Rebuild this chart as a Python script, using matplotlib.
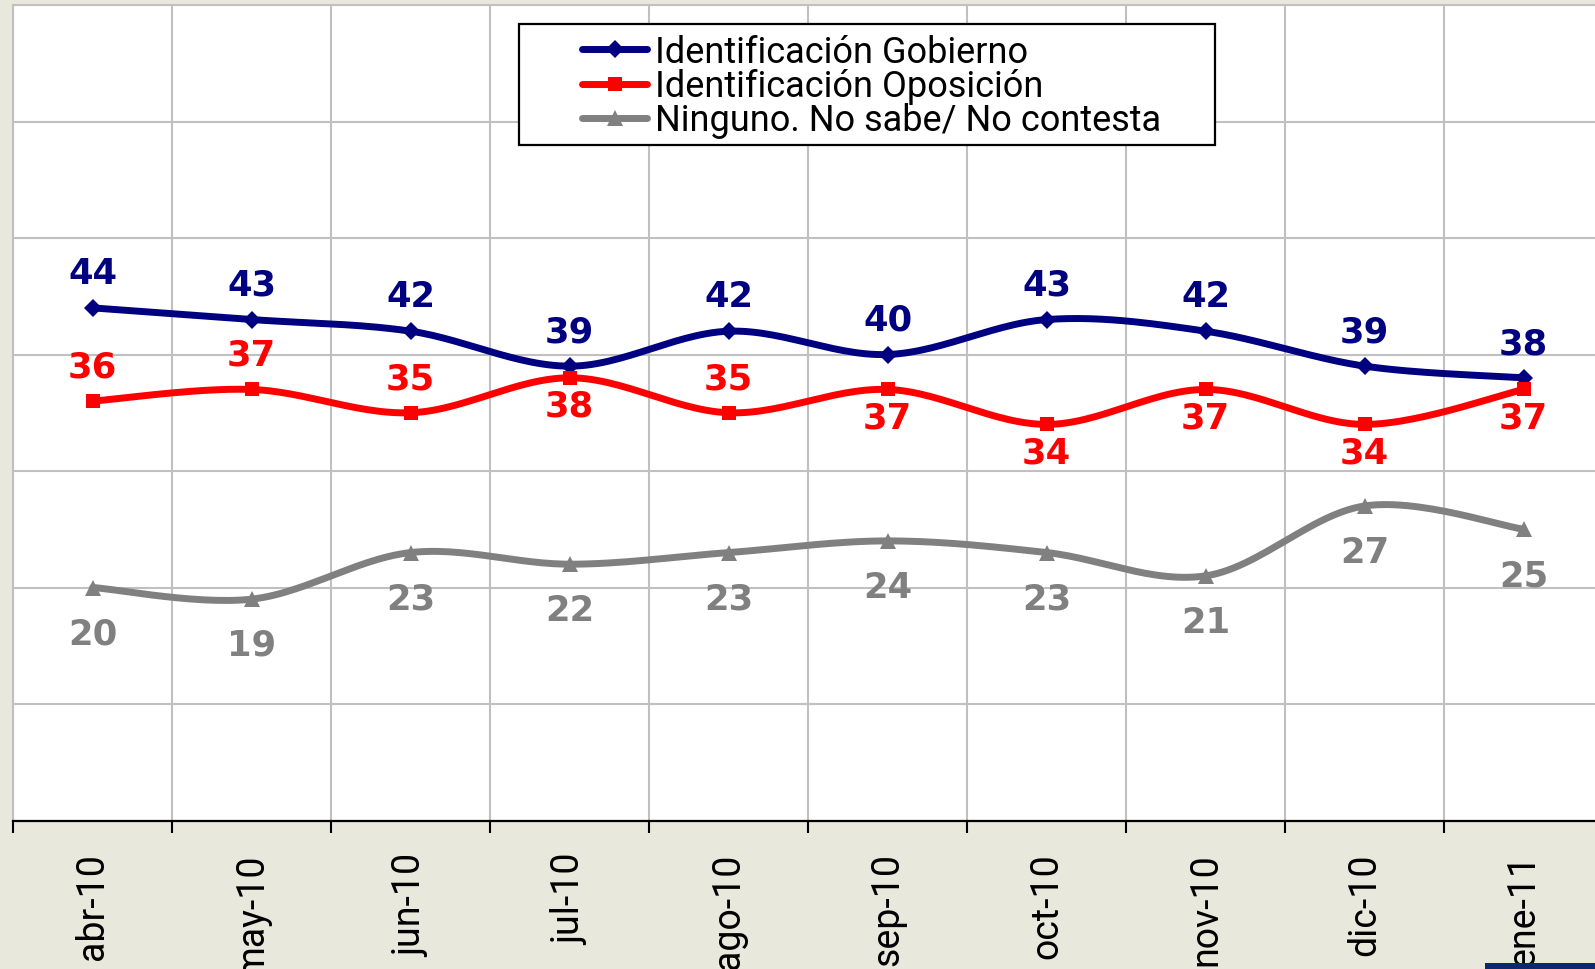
import numpy as np
import matplotlib
matplotlib.use("Agg")
import matplotlib.pyplot as plt
from matplotlib.patches import Rectangle
from matplotlib.lines import Line2D

# Monthly party identification (%)
months = ["abr-10", "may-10", "jun-10", "jul-10", "ago-10",
          "sep-10", "oct-10", "nov-10", "dic-10", "ene-11"]
gobierno = [44, 43, 42, 39, 42, 40, 43, 42, 39, 38]
oposicion = [36, 37, 35, 38, 35, 37, 34, 37, 34, 37]
ninguno = [20, 19, 23, 22, 23, 24, 23, 21, 27, 25]
series_names = ["Identificación Gobierno",
                "Identificación Oposición",
                "Ninguno. No sabe/ No contesta"]
# which opposition labels sit above their point
oposicion_label_above = [True, True, True, False, True,
                         False, False, False, False, False]

W, H = 1595, 970
BG = "#e9e8dd"
NAVY = "#000080"
RED = "#ff0000"
GREY = "#808080"
GRID = "#c0c0c0"
LABEL_FONT = "Roboto"
VALUE_FONT = "DejaVu Sans"
LW = 5.0


def smooth(x, y, n=30):
    """Cubic Bezier smoothing through every point (spreadsheet-style)."""
    P = np.column_stack([np.asarray(x, float), np.asarray(y, float)])
    ext = np.vstack([P[0], P, P[-1]])
    t = np.linspace(0, 1, n)[:, None]
    parts = []
    for i in range(len(P) - 1):
        p0, p1, p2, p3 = ext[i], ext[i + 1], ext[i + 2], ext[i + 3]
        c1 = p1 + (p2 - p0) / 6.0
        c2 = p2 - (p3 - p1) / 6.0
        seg = ((1 - t) ** 3) * p1 + 3 * ((1 - t) ** 2) * t * c1 \
            + 3 * (1 - t) * t ** 2 * c2 + t ** 3 * p2
        parts.append(seg if i == 0 else seg[1:])
    S = np.vstack(parts)
    return S[:, 0], S[:, 1]


fig = plt.figure(figsize=(W / 100, H / 100), dpi=100, facecolor=BG)

left_px, top_px, bottom_px = 13.2, 6.0, 821.5
cat_w = 159.0
ax = fig.add_axes([left_px / W, (H - bottom_px) / H,
                   cat_w * len(months) / W, (bottom_px - top_px) / H])
ax.set_facecolor("white")
x = np.arange(len(months))
ax.set_xlim(-0.5, len(months) - 0.5)
ax.set_ylim(0, 70)

# grid and axes
ax.set_yticks(np.arange(0, 71, 10))
ax.set_yticklabels([])
ax.tick_params(axis="y", length=0)
ax.set_xticks(x)
ax.set_xticklabels(months, rotation=90, ha="center", va="top",
                   fontsize=27, family=LABEL_FONT, color="black")
ax.tick_params(axis="x", which="major", length=0, pad=23)
ax.set_xticks(np.arange(-0.5, len(months), 1.0), minor=True)
ax.tick_params(axis="x", which="minor", length=8.6, width=1.5,
               color="black", direction="out")
ax.grid(True, axis="y", which="major", color=GRID, lw=1.5)
ax.grid(True, axis="x", which="minor", color=GRID, lw=1.5)
ax.set_axisbelow(True)
for side in ("left", "top"):
    ax.spines[side].set_color(GRID)
    ax.spines[side].set_linewidth(1.5)
ax.spines["right"].set_visible(False)
ax.spines["bottom"].set_color("black")
ax.spines["bottom"].set_linewidth(1.6)

styles = [
    (gobierno, NAVY, "D", 9.0),
    (ninguno, GREY, "^", 12.0),
    (oposicion, RED, "s", 10.0),
]
for vals, color, marker, ms in styles:
    sx, sy = smooth(x, vals)
    ax.plot(sx, sy, color=color, lw=LW, solid_capstyle="round",
            solid_joinstyle="round", zorder=3)
    ax.plot(x, vals, ls="none", marker=marker, ms=ms, color=color,
            mew=0, zorder=4)

value_kw = dict(textcoords="offset points", ha="center", va="center",
                fontsize=25.5, fontweight="bold", family=VALUE_FONT,
                zorder=5)
for i, v in enumerate(gobierno):
    ax.annotate(str(v), (i, v), xytext=(0, 25), color=NAVY, **value_kw)
for i, v in enumerate(oposicion):
    dy = 25 if oposicion_label_above[i] else -20
    ax.annotate(str(v), (i, v), xytext=(0, dy), color=RED, **value_kw)
for i, v in enumerate(ninguno):
    ax.annotate(str(v), (i, v), xytext=(0, -33), color=GREY, **value_kw)

# legend box, laid out in figure pixels
ov = fig.add_axes([0, 0, 1, 1], zorder=10)
ov.set_xlim(0, W)
ov.set_ylim(H, 0)
ov.axis("off")
ov.patch.set_alpha(0)
ov.add_patch(Rectangle((519, 25), 696, 121, facecolor="white",
                       edgecolor="black", lw=1.6))
legend_rows = [50.3, 84.7, 118.5]
legend_styles = [(NAVY, "D", 9.0), (RED, "s", 10.0), (GREY, "^", 12.0)]
for yrow, name, (color, marker, ms) in zip(legend_rows, series_names,
                                           legend_styles):
    ov.add_line(Line2D([582, 647], [yrow, yrow], color=color, lw=LW,
                       solid_capstyle="round"))
    ov.add_line(Line2D([614.5], [yrow], ls="none", marker=marker, ms=ms,
                       color=color, mew=0))
    ov.text(655, yrow + 12.7, name, fontsize=26, family=LABEL_FONT,
            color="black", ha="left", va="baseline")

# strip along the lower right edge
ov.add_patch(Rectangle((1485, 964), W - 1485, 6, facecolor="#0b2a6e",
                       edgecolor="none"))

fig.savefig("out.png", dpi=100, facecolor=BG)
